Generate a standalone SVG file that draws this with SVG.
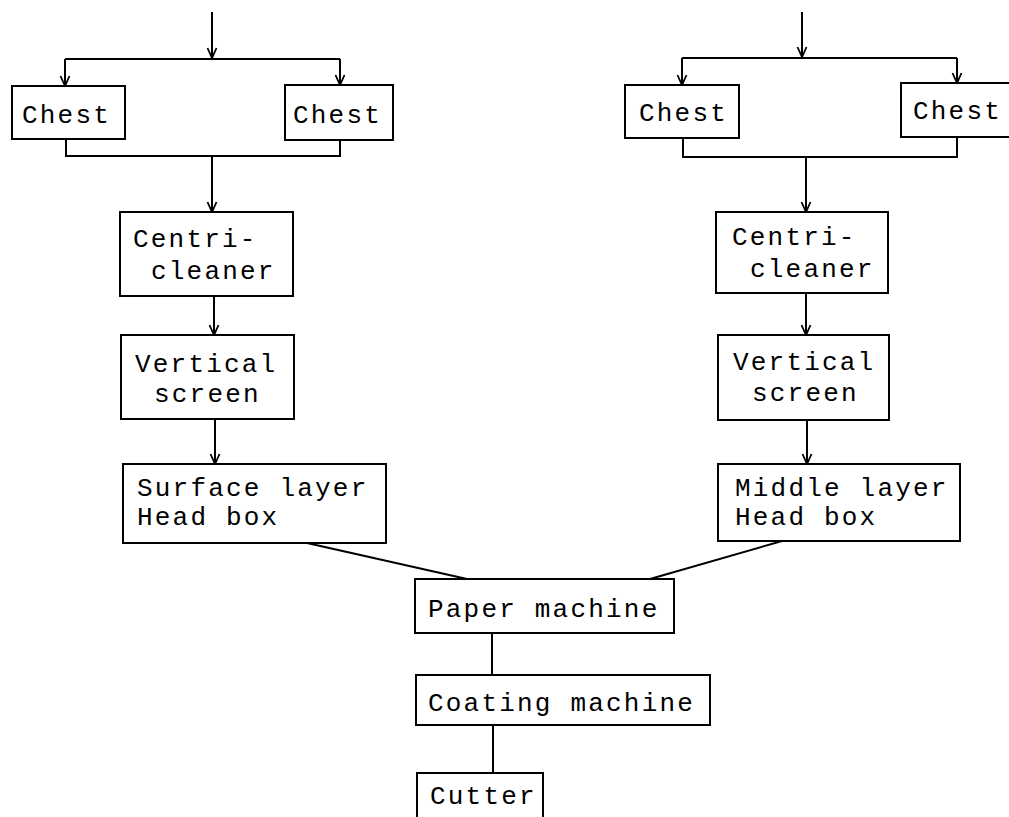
<svg xmlns="http://www.w3.org/2000/svg" width="1009" height="817" viewBox="0 0 1009 817">
  <defs>
    <marker id="arrow" viewBox="-11 -6 12 12" refX="0" refY="0" markerWidth="12" markerHeight="12" markerUnits="userSpaceOnUse" orient="auto" overflow="visible">
      <path d="M-10,-4.5 L0,0 L-10,4.5" fill="none" stroke="#000" stroke-width="1.8"/>
    </marker>
    <style>
      .box { fill: #fff; stroke: #000; stroke-width: 2; }
      .line { fill: none; stroke: #000; stroke-width: 2; }
      .arr { fill: none; stroke: #000; stroke-width: 2; marker-end: url(#arrow); }
      .lbl { font-family: "Liberation Mono", "Courier New", monospace; font-size: 26px; letter-spacing: 2.2px; fill: #000; }
    </style>
  </defs>
  <rect width="1009" height="817" fill="#fff"/>

  <!-- connectors -->
  <g id="connectors">
    <!-- left stream: feed split to chests -->
    <line class="arr" x1="212" y1="12" x2="212" y2="58"/>
    <line class="line" x1="65" y1="59" x2="340" y2="59"/>
    <line class="arr" x1="65" y1="59" x2="65" y2="86"/>
    <line class="arr" x1="340" y1="59" x2="340" y2="85"/>
    <!-- left stream: chests merge -->
    <polyline class="line" points="66,139 66,156 340,156 340,140"/>
    <line class="arr" x1="212" y1="156" x2="212" y2="212"/>
    <line class="arr" x1="214" y1="296" x2="214" y2="335"/>
    <line class="arr" x1="215" y1="419" x2="215" y2="464"/>
    <line class="line" x1="307" y1="543" x2="467" y2="579"/>

    <!-- right stream: feed split to chests -->
    <line class="arr" x1="802" y1="12" x2="802" y2="57"/>
    <line class="line" x1="682" y1="58" x2="957" y2="58"/>
    <line class="arr" x1="682" y1="58" x2="682" y2="85"/>
    <line class="arr" x1="957" y1="58" x2="957" y2="83"/>
    <!-- right stream: chests merge -->
    <polyline class="line" points="683,138 683,157 957,157 957,137"/>
    <line class="arr" x1="806" y1="157" x2="806" y2="212"/>
    <line class="arr" x1="806" y1="293" x2="806" y2="335"/>
    <line class="arr" x1="807" y1="420" x2="807" y2="464"/>
    <line class="line" x1="782" y1="541" x2="650" y2="579"/>

    <!-- finishing line -->
    <line class="line" x1="492" y1="633" x2="492" y2="675"/>
    <line class="line" x1="493" y1="725" x2="493" y2="773"/>
  </g>

  <!-- left stream nodes -->
  <g id="chest-l1">
    <rect class="box" x="12" y="86" width="113" height="53"/>
    <text class="lbl" x="22" y="123">Chest</text>
  </g>
  <g id="chest-l2">
    <rect class="box" x="285" y="85" width="108" height="55"/>
    <text class="lbl" x="293" y="123">Chest</text>
  </g>
  <g id="centricleaner-l">
    <rect class="box" x="120" y="212" width="173" height="84"/>
    <text class="lbl" x="133" y="247">Centri-</text>
    <text class="lbl" x="151" y="279">cleaner</text>
  </g>
  <g id="screen-l">
    <rect class="box" x="121" y="335" width="173" height="84"/>
    <text class="lbl" x="135" y="372">Vertical</text>
    <text class="lbl" x="154" y="402">screen</text>
  </g>
  <g id="headbox-surface">
    <rect class="box" x="123" y="464" width="263" height="79"/>
    <text class="lbl" x="137" y="496">Surface layer</text>
    <text class="lbl" x="137" y="525">Head box</text>
  </g>

  <!-- right stream nodes -->
  <g id="chest-r1">
    <rect class="box" x="625" y="85" width="114" height="53"/>
    <text class="lbl" x="639" y="121">Chest</text>
  </g>
  <g id="chest-r2">
    <rect class="box" x="901" y="83" width="114" height="54"/>
    <text class="lbl" x="913" y="119">Chest</text>
  </g>
  <g id="centricleaner-r">
    <rect class="box" x="716" y="212" width="172" height="81"/>
    <text class="lbl" x="732" y="245">Centri-</text>
    <text class="lbl" x="750" y="277">cleaner</text>
  </g>
  <g id="screen-r">
    <rect class="box" x="718" y="335" width="171" height="85"/>
    <text class="lbl" x="733" y="370">Vertical</text>
    <text class="lbl" x="752" y="401">screen</text>
  </g>
  <g id="headbox-middle">
    <rect class="box" x="718" y="464" width="242" height="77"/>
    <text class="lbl" x="735" y="496">Middle layer</text>
    <text class="lbl" x="735" y="525">Head box</text>
  </g>

  <!-- finishing nodes -->
  <g id="paper-machine">
    <rect class="box" x="415" y="579" width="259" height="54"/>
    <text class="lbl" x="428" y="617">Paper machine</text>
  </g>
  <g id="coating-machine">
    <rect class="box" x="416" y="675" width="294" height="50"/>
    <text class="lbl" x="428" y="711">Coating machine</text>
  </g>
  <g id="cutter">
    <rect class="box" x="417" y="773" width="126" height="60"/>
    <text class="lbl" x="430" y="804">Cutter</text>
  </g>
</svg>
